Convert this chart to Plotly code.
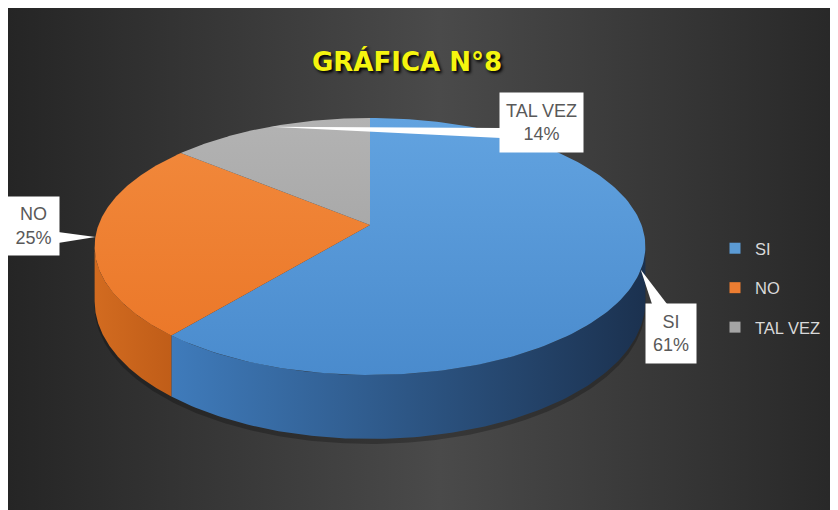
import numpy as np
import plotly.graph_objects as go

# ---- data ----
categories = ["SI", "NO", "TAL VEZ"]
percentages = [61, 25, 14]
title_text = "GRÁFICA N°8"

# ---- styles ----
top_colors = [("#62a3e0", "#4a8bcd"), ("#f28a3d", "#ea7526"), ("#b3b3b3", "#9b9b9b")]
side_colors = [("#3f7bbb", "#1b314f"), ("#d26b20", "#c05d18"), ("#8a8a8a", "#6a6a6a")]
legend_colors = ["#5b9bd5", "#ed7d31", "#a5a5a5"]

# pie geometry (screen pixel space, perspective projected disk)
CX, CY = 370.0, 225.0
A, B = 271.5, 124.9
K = 0.167
D = 53.3

# page body has an 8px margin: figure occupies screen x 8..838, y 8..510
SX0, SY0, SX1, SY1 = 8, 8, 838, 510
FW, FH = SX1 - SX0, SY1 - SY0


def proj(theta_deg):
    th = np.radians(theta_deg)
    u = np.sin(th)
    v = -np.cos(th)
    d = 1 - K * v
    return CX + A * u / d, CY + B * v / d, d


fig = go.Figure()

# background with horizontal gradient
fig.add_trace(go.Scatter(
    x=[SX0, SX1, SX1, SX0, SX0], y=[SY0, SY0, SY1, SY1, SY0], mode="lines", line=dict(width=0),
    fill="toself",
    fillgradient=dict(type="horizontal", start=SX0, stop=SX1,
                      colorscale=[[0, "#252525"], [0.52, "#4a4a4a"], [1, "#282828"]]),
    hoverinfo="skip", showlegend=False))

# slice angles (clockwise from 12 o'clock)
total = float(sum(percentages))
bounds = np.concatenate([[0], np.cumsum(percentages) / total * 360.0])

vis_lo = np.degrees(np.arccos(-K))
vis_hi = 360 - vis_lo

# soft shadow under pie
tt = np.linspace(vis_lo, vis_hi, 200)
sx, sy, sd = proj(tt)
tb = np.linspace(vis_hi, vis_lo + 360, 200)
bx, by, bd = proj(tb)
fig.add_trace(go.Scatter(
    x=np.concatenate([sx, bx]), y=np.concatenate([sy + D / sd + 5, by + 40]),
    mode="lines", line=dict(width=0), fill="toself", fillcolor="rgba(0,0,0,0.25)",
    hoverinfo="skip", showlegend=False))

# sides
for i in range(len(categories)):
    a1, a2 = max(bounds[i], vis_lo), min(bounds[i + 1], vis_hi)
    if a2 <= a1:
        continue
    t = np.linspace(a1, a2, 120)
    x, y, d = proj(t)
    xs = np.concatenate([x, x[::-1], x[:1]])
    ys = np.concatenate([y, (y + D / d)[::-1], y[:1]])
    c0, c1 = side_colors[i]
    fig.add_trace(go.Scatter(
        x=xs, y=ys, mode="lines", line=dict(width=0), fill="toself",
        fillgradient=dict(type="horizontal", start=float(x.min()), stop=float(x.max()),
                          colorscale=[[0, c0], [1, c1]]),
        hoverinfo="skip", showlegend=False))

# top faces
for i in range(len(categories)):
    t = np.linspace(bounds[i], bounds[i + 1], 160)
    x, y, d = proj(t)
    xs = np.concatenate([[CX], x, [CX]])
    ys = np.concatenate([[CY], y, [CY]])
    c0, c1 = top_colors[i]
    fig.add_trace(go.Scatter(
        x=xs, y=ys, mode="lines", line=dict(width=0), fill="toself",
        fillgradient=dict(type="vertical", start=118, stop=375,
                          colorscale=[[0, c0], [1, c1]]),
        name=categories[i], hoverinfo="name", showlegend=False))

# data labels with callout wedges
label_boxes = {  # center x, center y, width, height, wedge base points
    "SI": (671, 333.5, 50, 59, [(652, 304), (667, 304)]),
    "NO": (33, 226, 51, 58, [(58, 232), (58, 243)]),
    "TAL VEZ": (541.5, 122.5, 83, 59, [(501, 128), (501, 138)]),
}
for i, cat in enumerate(categories):
    mid = (bounds[i] + bounds[i + 1]) / 2
    tx, ty, _ = proj(mid)
    cx, cy, bw, bh, base = label_boxes[cat]
    fig.add_trace(go.Scatter(
        x=[float(tx), base[0][0], base[1][0], float(tx)],
        y=[float(ty), base[0][1], base[1][1], float(ty)],
        mode="lines", line=dict(width=0), fill="toself", fillcolor="white",
        hoverinfo="skip", showlegend=False))
    fig.add_annotation(
        x=cx, y=cy, xref="x", yref="y", showarrow=False,
        text=f"{cat}<br>{percentages[i]}%",
        width=bw, height=bh, bgcolor="white", borderpad=0, align="center", valign="middle",
        font=dict(family="Liberation Sans, Arial, sans-serif", size=18, color="#595959"))

# legend entries
for i, cat in enumerate(categories):
    fig.add_trace(go.Scatter(
        x=[None], y=[None], mode="markers", name=cat, legendgroup=cat,
        marker=dict(symbol="square", size=11, color=legend_colors[i])))

fig.update_layout(
    width=FW, height=FH,
    margin=dict(l=0, r=0, t=0, b=0),
    paper_bgcolor="white", plot_bgcolor="#333333",
    xaxis=dict(range=[SX0, SX1], visible=False, fixedrange=True),
    yaxis=dict(range=[SY1, SY0], visible=False, fixedrange=True),
    title=dict(text=f"<b>{title_text}</b>", x=(407 - SX0) / FW, y=1 - (62 - SY0) / FH,
               xanchor="center", yanchor="middle",
               font=dict(family="DejaVu Sans, Arial, sans-serif", size=26, color="#f5f50f",
                         shadow="2px 2px 3px #000000")),
    legend=dict(x=(826 - SX0) / FW, y=1 - (288 - SY0) / FH, xanchor="right", yanchor="middle",
                bgcolor="rgba(0,0,0,0)", tracegroupgap=15,
                font=dict(family="Liberation Sans, Arial, sans-serif", size=16.5, color="#d9d9d9")),
    showlegend=True,
)

fig.write_html("out.html")
